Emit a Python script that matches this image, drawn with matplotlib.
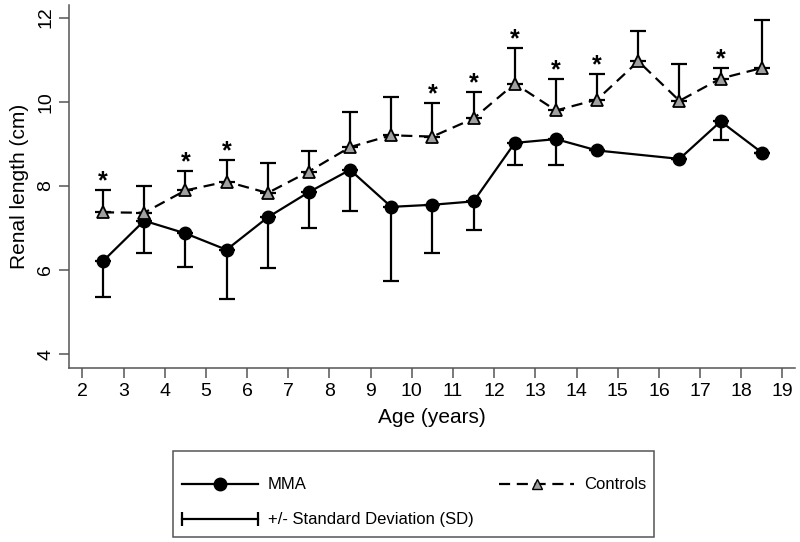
import matplotlib.pyplot as plt
from matplotlib.lines import Line2D
from matplotlib.patches import Rectangle
from matplotlib.legend_handler import HandlerLine2D

plt.rcParams['font.family'] = ['Liberation Sans', 'DejaVu Sans']

# MMA patients (mean, lower SD end)
mma_age = [2.5, 3.5, 4.5, 5.5, 6.5, 7.5, 8.5, 9.5, 10.5, 11.5, 12.5, 13.5, 14.5, 16.5, 17.5, 18.5]
mma_len = [6.21, 7.17, 6.87, 6.48, 7.25, 7.85, 8.38, 7.50, 7.55, 7.63, 9.02, 9.11, 8.84, 8.64, 9.53, 8.79]
mma_sd = [0.86, 0.77, 0.81, 1.17, 1.21, 0.86, 0.98, 1.76, 1.15, 0.68, 0.52, 0.61, 0, 0, 0.43, 0]

# Controls (mean, upper SD end)
ctl_age = [2.5, 3.5, 4.5, 5.5, 6.5, 7.5, 8.5, 9.5, 10.5, 11.5, 12.5, 13.5, 14.5, 15.5, 16.5, 17.5, 18.5]
ctl_len = [7.37, 7.36, 7.89, 8.10, 7.83, 8.34, 8.92, 9.20, 9.17, 9.60, 10.43, 9.79, 10.05, 10.96, 10.02, 10.55, 10.80]
ctl_sd = [0.53, 0.64, 0.47, 0.52, 0.71, 0.49, 0.84, 0.90, 0.81, 0.63, 0.85, 0.75, 0.61, 0.71, 0.88, 0.25, 1.14]

# significant differences
star_age = [2.5, 4.5, 5.5, 10.5, 11.5, 12.5, 13.5, 14.5, 17.5]

fig = plt.figure(figsize=(8, 5.42), dpi=100)
ax = fig.add_axes([0.086, 0.321, 0.908, 0.67])

ax.errorbar(mma_age, mma_len, yerr=[mma_sd, [0] * len(mma_sd)], fmt='none',
            ecolor='black', elinewidth=1.6, capsize=6, capthick=1.6, zorder=2)
ax.plot(mma_age, mma_len, '-', color='black', lw=1.6, marker='o', ms=9, zorder=3)

ax.errorbar(ctl_age, ctl_len, yerr=[[0] * len(ctl_sd), ctl_sd], fmt='none',
            ecolor='black', elinewidth=1.6, capsize=6, capthick=1.6, zorder=2)
ax.plot(ctl_age, ctl_len, '--', color='black', lw=1.6, dashes=(5, 3),
        marker='^', ms=8, mfc='#a0a0a0', mec='black', mew=1.3, zorder=3)

for a in star_age:
    i = ctl_age.index(a)
    ax.text(a, ctl_len[i] + ctl_sd[i] + 0.2, '*', ha='center', va='center',
            fontsize=18, fontweight='bold')

ax.set_xlim(1.67, 19.31)
ax.set_ylim(3.67, 12.3)
ax.set_xticks(range(2, 20))
ax.set_yticks([4, 6, 8, 10, 12])
ax.tick_params(axis='both', labelsize=14, length=7, width=1.1, color='#555555', direction='out')
for lbl in ax.get_yticklabels():
    lbl.set_rotation(90)
    lbl.set_va('center')
for s in ['top', 'right']:
    ax.spines[s].set_visible(False)
for s in ['left', 'bottom']:
    ax.spines[s].set_color('#555555')
    ax.spines[s].set_linewidth(1.1)

ax.set_xlabel('Age (years)', fontsize=15, labelpad=6)
ax.set_ylabel('Renal length (cm)', fontsize=15, labelpad=6)

# legend box drawn separately so its size matches the original
fig.patches.append(Rectangle((0.216, 0.0092), 0.601, 0.1587, transform=fig.transFigure,
                             fill=False, edgecolor='#555555', lw=1.1))

h_mma = Line2D([], [], color='black', lw=1.6, marker='o', ms=9)
h_ctl = Line2D([], [], color='black', lw=1.6, ls='--', dashes=(5, 3),
               marker='^', ms=7, mfc='#a0a0a0', mec='black')
h_sd = Line2D([], [], color='black', lw=1.6, marker='|', ms=10, mew=1.6)
fig.legend([h_mma, h_sd, h_ctl],
           ['MMA', '+/- Standard Deviation (SD)', 'Controls'],
           ncol=2, loc='center left', bbox_to_anchor=(0.2275, 0.073),
           fontsize=12, handlelength=4.55, handletextpad=0.6, columnspacing=1.5,
           numpoints=1, frameon=False, borderpad=0, borderaxespad=0,
           labelspacing=1.2, handler_map={h_sd: HandlerLine2D(numpoints=2, marker_pad=0)})

fig.savefig('out.png', dpi=100)
